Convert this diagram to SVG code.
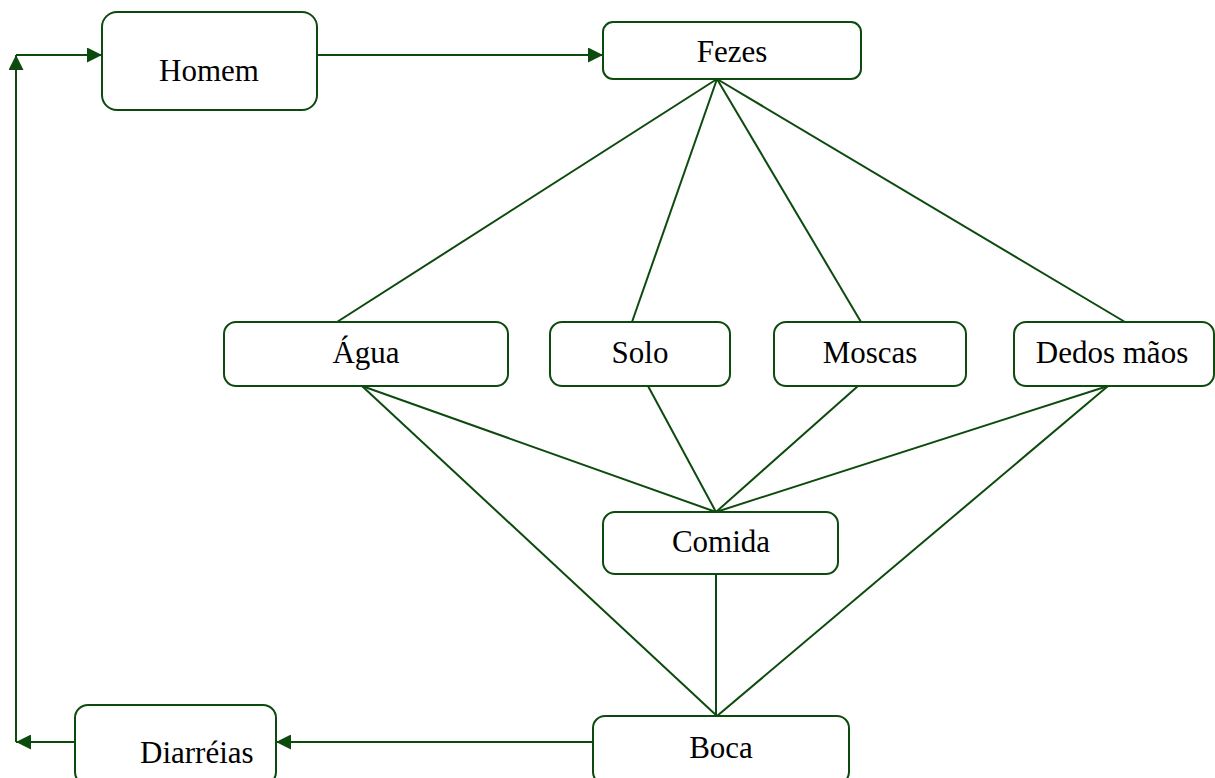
<svg xmlns="http://www.w3.org/2000/svg" width="1215" height="778" viewBox="0 0 1215 778">
<defs>
<style>
.box{fill:#fff;stroke:#0d4a0d;stroke-width:2}
.ln{stroke:#0d4a0d;stroke-width:2;fill:none}
.t{font-family:"Liberation Serif","Times New Roman",serif;font-size:31px;fill:#000;text-anchor:middle}
</style>
<marker id="ah" viewBox="0 0 10 10" refX="10" refY="5" markerWidth="16" markerHeight="15" markerUnits="userSpaceOnUse" orient="auto">
<path d="M0,0 L10,5 L0,10 Z" fill="#0d4a0d"/>
</marker>
</defs>
<rect width="1215" height="778" fill="#fff"/>
<g id="connectors">
<line class="ln" x1="16" y1="742" x2="16" y2="55" marker-end="url(#ah)"/>
<line class="ln" x1="16" y1="55" x2="102" y2="55" marker-end="url(#ah)"/>
<line class="ln" x1="317" y1="55" x2="603" y2="55" marker-end="url(#ah)"/>
<line class="ln" x1="75" y1="742" x2="16" y2="742" marker-end="url(#ah)"/>
<line class="ln" x1="593" y1="742" x2="276" y2="742" marker-end="url(#ah)"/>
<line class="ln" x1="717" y1="79" x2="337" y2="322"/>
<line class="ln" x1="717" y1="79" x2="632" y2="322"/>
<line class="ln" x1="717" y1="79" x2="861" y2="322"/>
<line class="ln" x1="717" y1="79" x2="1125" y2="322"/>
<line class="ln" x1="362" y1="386" x2="716" y2="512"/>
<line class="ln" x1="362" y1="386" x2="717" y2="716"/>
<line class="ln" x1="648" y1="386" x2="716" y2="512"/>
<line class="ln" x1="858" y1="386" x2="716" y2="512"/>
<line class="ln" x1="1108" y1="386" x2="716" y2="512"/>
<line class="ln" x1="1108" y1="386" x2="717" y2="716"/>
<line class="ln" x1="716" y1="574" x2="716" y2="716"/>
</g>
<g id="homem"><rect class="box" x="102" y="12" width="215" height="98" rx="15"/><text class="t" x="209" y="81">Homem</text></g>
<g id="fezes"><rect class="box" x="603" y="22" width="258" height="57" rx="10"/><text class="t" x="732" y="62">Fezes</text></g>
<g id="agua"><rect class="box" x="224" y="322" width="284" height="64" rx="12"/><text class="t" x="366" y="363">Água</text></g>
<g id="solo"><rect class="box" x="550" y="322" width="180" height="64" rx="12"/><text class="t" x="640" y="363">Solo</text></g>
<g id="moscas"><rect class="box" x="774" y="322" width="192" height="64" rx="12"/><text class="t" x="870" y="363">Moscas</text></g>
<g id="dedos"><rect class="box" x="1014" y="322" width="200" height="64" rx="12"/><text class="t" x="1112" y="363">Dedos mãos</text></g>
<g id="comida"><rect class="box" x="603" y="512" width="235" height="62" rx="12"/><text class="t" x="721" y="552">Comida</text></g>
<g id="boca"><rect class="box" x="593" y="716" width="256" height="68" rx="12"/><text class="t" x="721" y="758">Boca</text></g>
<g id="diarreias"><rect class="box" x="75" y="705" width="201" height="80" rx="13"/><text class="t" x="140" y="763" style="text-anchor:start">Diarréias</text></g>
</svg>
